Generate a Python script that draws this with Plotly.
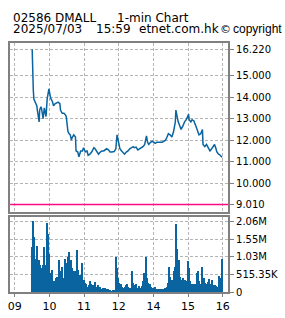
import plotly.graph_objects as go

# ---------------- data ----------------
price_times = [
    "09:30", "09:31", "09:32", "09:33", "09:35", "09:38", "09:39", "09:41", "09:42", "09:43",
    "09:45", "09:46", "09:49", "09:51", "09:54", "09:56", "09:59", "10:02", "10:05", "10:07",
    "10:10", "10:15", "10:18", "10:19", "10:22", "10:25", "10:27", "10:29", "10:31", "10:32",
    "10:34", "10:36", "10:38", "10:39", "10:42", "10:45", "10:46", "10:49", "10:51", "10:54",
    "10:57", "10:59", "11:02", "11:05", "11:07", "11:10", "11:13", "11:17", "11:19", "11:22",
    "11:25", "11:28", "11:31", "11:34", "11:37", "11:39", "11:42", "11:45", "11:48", "11:52",
    "11:55", "11:57", "11:59", "13:01", "13:02", "13:05", "13:07", "13:10", "13:13", "13:16",
    "13:19", "13:22", "13:25", "13:27", "13:30", "13:33", "13:36", "13:39", "13:42", "13:45",
    "13:46", "13:48", "13:50", "13:52", "13:55", "13:58", "14:01", "14:03", "14:06", "14:09",
    "14:12", "14:15", "14:18", "14:21", "14:23", "14:26", "14:29", "14:32", "14:35", "14:38",
    "14:39", "14:41", "14:43", "14:46", "14:48", "14:51", "14:54", "14:57", "14:59", "15:01",
    "15:02", "15:05", "15:07", "15:10", "15:13", "15:16", "15:19", "15:22", "15:25", "15:26",
    "15:29", "15:32", "15:35", "15:38", "15:41", "15:43", "15:46", "15:48", "15:50", "15:53",
    "15:56", "15:59",
]
price_values = [
    16.22, 14.53, 14.30, 13.90, 13.80, 13.60, 13.39, 12.94, 12.85, 13.40,
    13.55, 13.50, 13.00, 13.50, 13.10, 13.92, 14.38, 13.95, 13.80, 13.60,
    13.70, 13.77, 13.70, 13.40, 13.25, 13.25, 13.20, 13.10, 12.64, 12.40,
    12.30, 12.25, 12.00, 12.10, 12.25, 12.15, 11.50, 11.45, 11.23, 11.50,
    11.50, 11.65, 11.45, 11.50, 11.30, 11.35, 11.45, 11.65, 11.60, 11.45,
    11.35, 11.45, 11.50, 11.50, 11.55, 11.60, 11.55, 11.45, 11.45, 11.47,
    11.60, 12.25, 12.00, 11.70, 11.60, 11.50, 11.45, 11.35, 11.45, 11.50,
    11.60, 11.65, 11.70, 11.65, 11.68, 11.55, 11.60, 11.65, 11.70, 11.80,
    11.95, 12.20, 11.90, 11.80, 11.90, 11.95, 11.90, 11.85, 11.90, 11.90,
    11.92, 11.90, 11.95, 12.00, 12.10, 12.30, 12.25, 12.15, 12.40, 12.85,
    13.40, 13.10, 12.85, 12.65, 12.50, 12.65, 12.85, 12.95, 13.10, 13.20,
    12.95, 12.85, 12.95, 12.90, 12.70, 12.50, 12.25, 12.30, 12.50, 11.80,
    11.70, 11.80, 11.65, 11.50, 11.60, 11.70, 11.80, 11.65, 11.45, 11.35,
    11.30, 11.20,
]

volume_times = [
    "09:30", "09:32", "09:34", "09:36", "09:37", "09:39", "09:40", "09:41", "09:43", "09:44",
    "09:45", "09:47", "09:49", "09:50", "09:52", "09:53", "09:55", "09:56", "09:57", "09:59",
    "10:00", "10:01", "10:04", "10:05", "10:07", "10:09", "10:11", "10:13", "10:14", "10:16",
    "10:17", "10:19", "10:21", "10:23", "10:24", "10:25", "10:27", "10:29", "10:31", "10:32",
    "10:34", "10:36", "10:37", "10:39", "10:40", "10:42", "10:44", "10:45", "10:47", "10:49",
    "10:51", "10:52", "10:54", "10:56", "10:57", "10:59", "11:01", "11:03", "11:04", "11:06",
    "11:08", "11:10", "11:12", "11:14", "11:16", "11:17", "11:19", "11:21", "11:23", "11:24",
    "11:26", "11:28", "11:30", "11:32", "11:34", "11:36", "11:39", "11:41", "11:43", "11:45",
    "11:48", "11:50", "11:52", "11:55", "11:56", "11:57", "11:59", "13:01", "13:03", "13:04",
    "13:06", "13:08", "13:09", "13:11", "13:13", "13:15", "13:16", "13:18", "13:20", "13:21",
    "13:23", "13:25", "13:27", "13:28", "13:30", "13:32", "13:33", "13:35", "13:37", "13:39",
    "13:40", "13:42", "13:44", "13:45", "13:47", "13:49", "13:51", "13:52", "13:54", "13:56",
    "13:57", "14:00", "14:01", "14:03", "14:05", "14:07", "14:08", "14:10", "14:12", "14:13",
    "14:15", "14:17", "14:19", "14:20", "14:22", "14:24", "14:25", "14:27", "14:29", "14:31",
    "14:32", "14:34", "14:36", "14:37", "14:39", "14:40", "14:41", "14:43", "14:44", "14:46",
    "14:48", "14:49", "14:51", "14:53", "14:55", "14:56", "14:58", "15:00", "15:01", "15:03",
    "15:05", "15:07", "15:08", "15:10", "15:12", "15:13", "15:15", "15:17", "15:19", "15:20",
    "15:22", "15:24", "15:25", "15:27", "15:29", "15:31", "15:32", "15:34", "15:36", "15:37",
    "15:39", "15:41", "15:43", "15:44", "15:46", "15:48", "15:49", "15:51", "15:53", "15:55",
    "15:56", "15:59",
]
volume_millions = [
    1.30, 2.06, 1.60, 0.97, 0.70, 1.35, 0.70, 0.93, 0.78, 0.50,
    0.69, 0.60, 0.78, 1.30, 0.60, 0.78, 1.11, 2.01, 1.68, 1.10,
    0.50, 0.55, 0.50, 0.64, 0.31, 0.26, 0.40, 0.45, 0.08, 0.45,
    0.93, 0.60, 0.74, 0.36, 0.22, 0.40, 0.97, 0.64, 0.83, 1.02,
    1.16, 0.83, 0.93, 0.69, 0.60, 0.45, 0.60, 0.26, 1.21, 0.64,
    0.31, 0.50, 0.36, 0.22, 0.83, 0.36, 0.26, 0.17, 0.22, 0.15,
    0.19, 0.31, 0.22, 0.12, 0.19, 0.15, 0.28, 0.15, 0.11, 0.19,
    0.13, 0.15, 0.09, 0.11, 0.08, 0.11, 0.08, 0.09, 0.06, 0.05,
    0.04, 0.05, 0.06, 0.08, 1.02, 0.69, 0.40, 0.26, 0.17, 0.22,
    0.15, 0.12, 0.09, 0.15, 0.19, 0.22, 0.15, 0.12, 0.09, 0.12,
    0.60, 0.26, 0.19, 0.12, 0.22, 0.09, 0.11, 0.17, 0.09, 0.12,
    0.17, 0.31, 0.55, 0.45, 1.02, 0.40, 0.25, 0.19, 0.22, 0.15,
    0.11, 0.08, 0.11, 0.15, 0.08, 0.09, 0.06, 0.09, 0.08, 0.06,
    0.09, 0.05, 0.08, 0.11, 0.08, 0.15, 0.26, 0.72, 0.45, 0.31,
    0.36, 0.25, 0.60, 0.74, 1.98, 1.73, 1.26, 0.60, 0.93, 0.45,
    0.36, 0.31, 0.40, 0.22, 0.36, 0.31, 0.22, 0.91, 0.69, 0.31,
    0.17, 0.22, 0.19, 0.22, 0.15, 0.22, 0.55, 0.60, 0.31, 0.22,
    0.15, 0.55, 0.74, 0.40, 0.25, 0.22, 0.15, 0.28, 0.17, 0.38,
    0.22, 0.36, 0.19, 0.15, 0.19, 0.15, 0.17, 0.15, 0.47, 0.40,
    0.26, 0.97,
]

price_ticks = [9.01, 10, 11, 12, 13, 14, 15, 16.22]
reference_price = 9.01
volume_ticks = [0, 0.51535, 1.0307, 1.54605, 2.0614]
volume_tick_labels = ["0", "515.35K", "1.03M", "1.55M", "2.06M"]
hour_labels = ["09", "10", "11", "12", "14", "15", "16"]
hour_ticks = ["09:00", "10:00", "11:00", "12:00", "14:00", "15:00", "16:00"]


def trading_minute(hhmm):
    """Minutes since 09:00 with the 12:00-13:00 lunch break removed."""
    h, m = (int(v) for v in hhmm.split(":"))
    total = h * 60 + m - 9 * 60
    if h >= 13:
        total -= 60
    return total


W, H = 285, 318
BLUE = "#0a64a0"
GRID = "#b4b4b4"
FRAME = "#808080"
FONT = "DejaVu Sans"

px = [trading_minute(t) for t in price_times]
vx = [trading_minute(t) for t in volume_times]
hx = [trading_minute(t) for t in hour_ticks]

fig = go.Figure()
fig.add_trace(go.Scatter(x=px, y=price_values, mode="lines",
                         line=dict(color=BLUE, width=1.5), xaxis="x", yaxis="y",
                         showlegend=False, hoverinfo="skip"))
fig.add_trace(go.Bar(x=vx, y=volume_millions, marker=dict(color=BLUE, line=dict(width=0)),
                     width=2, offset=-0.5, xaxis="x2", yaxis="y2",
                     showlegend=False, hoverinfo="skip"))

xr = [-8.06, 369.8]
xdom = [8.3 / W, 228.7 / W]
common_x = dict(range=xr, domain=xdom, tickmode="array", tickvals=hx,
                showgrid=True, gridcolor=GRID, griddash="3px,2px", gridwidth=1,
                showline=True, linecolor=FRAME, linewidth=1.5, mirror=True,
                zeroline=False, fixedrange=True)
common_y = dict(side="right", showgrid=True, gridcolor=GRID, griddash="3px,2px", gridwidth=1,
                showline=True, linecolor=FRAME, linewidth=1.5, mirror=True,
                ticks="outside", ticklen=4, tickcolor=FRAME, tickwidth=1,
                zeroline=False, fixedrange=True,
                tickfont=dict(family=FONT, size=10, color="#000"))

fig.update_layout(
    width=W, height=H, margin=dict(l=0, r=0, t=0, b=0),
    paper_bgcolor="white", plot_bgcolor="white", bargap=0,
    xaxis=dict(**common_x, anchor="y", showticklabels=False, ticks=""),
    yaxis=dict(**common_y, anchor="x", domain=[(H - 215.7) / H, (H - 42.7) / H],
               range=[8.664, 16.527], tickmode="array", tickvals=price_ticks,
               ticktext=[f"{v:.3f}" for v in price_ticks]),
    xaxis2=dict(**common_x, anchor="y2", ticktext=hour_labels, ticks="outside",
                ticklen=3, tickcolor=FRAME,
                tickfont=dict(family=FONT, size=11, color="#000")),
    yaxis2=dict(**common_y, anchor="x2", domain=[(H - 297.7) / H, (H - 221) / H],
                range=[0, 2.183], tickmode="array", tickvals=volume_ticks,
                ticktext=volume_tick_labels),
)

fig.add_shape(type="line", xref="x domain", yref="y", x0=0, x1=1,
              y0=reference_price, y1=reference_price,
              line=dict(color="#ff0a82", width=1.5))


def label(text, x, y, size=12, family=FONT):
    fig.add_annotation(text=text, xref="paper", yref="paper", x=x / W, y=1 - y / H,
                       xanchor="left", yanchor="middle", showarrow=False,
                       borderpad=0, font=dict(family=family, size=size, color="#000"))


label("02586 DMALL", 10, 17)
label("1-min Chart", 115, 17)
label("2025/07/03", 10, 29)
label("15:59", 94, 29)
label("etnet.com.hk", 137, 29)
label("©", 219, 29, size=11)
label("copyright", 232, 29, size=12, family="Liberation Sans")

fig.write_html("out.html")
